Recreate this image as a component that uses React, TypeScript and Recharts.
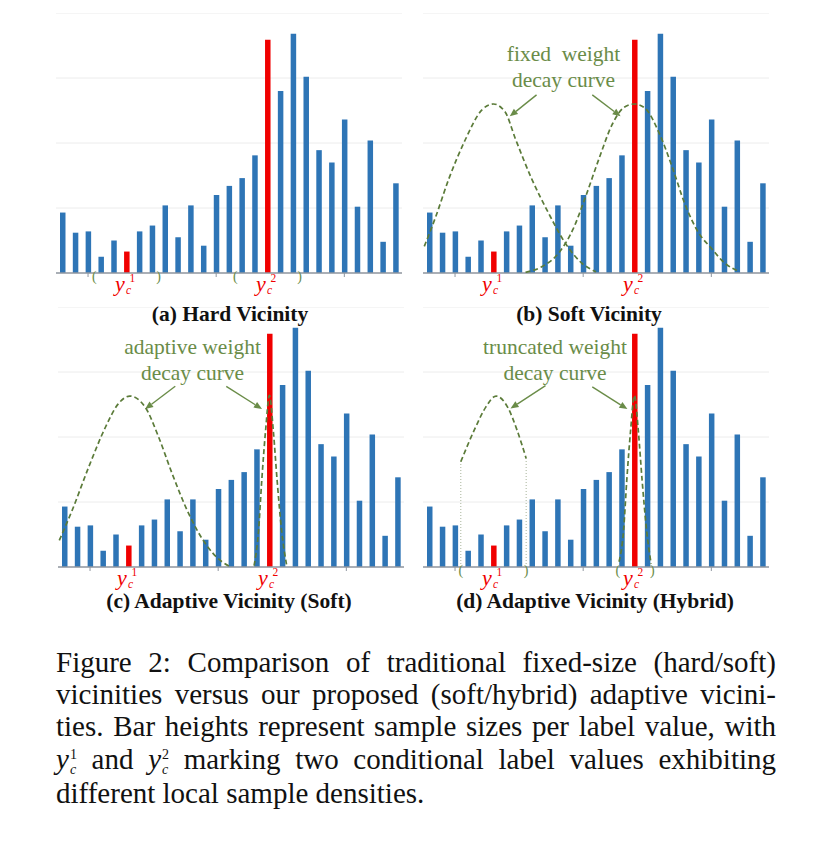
import React from 'react';
import {
  ComposedChart,
  Bar,
  Line,
  Cell,
  XAxis,
  YAxis,
  CartesianGrid,
  ReferenceDot,
  ReferenceLine,
} from 'recharts';

// histogram shared by all four panels (sample size per label bin)
const binPositions = [0, 1, 2, 3, 4, 5, 6, 7, 8, 9, 10, 11, 12, 13, 14, 15, 16, 17, 18, 19, 20, 21, 22, 23, 24, 25, 26];
const sampleSizes = [93, 62, 64, 25, 50, 33, 64, 73, 104, 55, 104, 42, 120, 134, 146, 181, 359, 280, 368, 302, 189, 170, 236, 102, 204, 48, 138];
const conditionalBins = [5, 16]; // y_c^1, y_c^2
const axisTicks = [2, 12, 22];
const gridValues = [0, 100, 200, 300];

// vicinity windows [from, to] in bin units
const hardWindows = [[2.5, 7.5], [13.5, 18.5]];
const hybridWindows = [[2.45, 7.55], [14.7, 17.4]];

// weight decay curves, [bin, height]
const fixedCurveLow = [[-0.4, 41], [0.5, 87], [1.5, 144], [2.8, 205], [4.1, 251], [5.0, 260], [5.9, 248], [6.7, 207], [8.0, 144], [9.3, 92], [10.6, 46], [11.9, 15], [13.0, 2]];
const fixedCurveHigh = [[7.5, 1], [8.8, 10], [10.1, 31], [11.2, 67], [12.2, 118], [13.2, 174], [14.3, 230], [15.2, 255], [16.0, 260], [16.8, 254], [18.0, 212], [19.0, 160], [19.9, 108], [21.0, 62], [22.0, 38], [23.0, 16], [24.2, 2]];
const adaptiveCurveLow = [[-0.4, 41], [0.6, 87], [1.9, 154], [3.2, 215], [4.2, 251], [5.1, 263], [6.3, 246], [7.35, 200], [8.4, 144], [9.7, 82], [11.0, 36], [12.3, 8], [12.9, 1]];
const adaptiveCurveHigh = [[14.8, 2], [15.15, 56], [15.4, 133], [15.7, 210], [16.0, 264], [16.3, 210], [16.6, 133], [16.95, 56], [17.35, 2]];
const truncatedCurveLow = [[2.45, 162], [3.6, 215], [4.4, 246], [5.2, 263], [6.1, 246], [6.85, 210], [7.55, 167]];
const truncatedCurveHigh = [[14.8, 8], [15.15, 56], [15.4, 133], [15.7, 210], [16.0, 264], [16.3, 210], [16.6, 133], [16.95, 56], [17.3, 5]];

const BLUE = '#2e75b6';
const RED = '#f00000';
const CURVE = '#5b7b39';
const GREEN_TEXT = '#6a8c48';
const GRID = '#ececec';
const AXIS = '#9097a0';
const SERIF = "'Liberation Serif', 'Times New Roman', serif";

const PLOT_W = 346;
const PLOT_H = 260;
const AXIS_H = 46;
const X_DOMAIN: [number, number] = [-0.5, 26.5];
const Y_DOMAIN: [number, number] = [0, 400];

const barRows = binPositions.map((x, i) => ({
  x,
  count: sampleSizes[i],
  highlight: conditionalBins.includes(x),
}));

function curveRows(curves: number[][][]) {
  const rows: any[] = [];
  curves.forEach((pts, ci) => pts.forEach(([x, y]) => rows.push({ x, [`c${ci}`]: y })));
  return rows.sort((a, b) => a.x - b.x);
}

const Arrow = (p: any) => {
  const { x1, y1, x2, y2 } = p;
  const a = Math.atan2(y2 - y1, x2 - x1);
  const len = 8;
  const w = 3.4;
  const bx = x2 - len * Math.cos(a);
  const by = y2 - len * Math.sin(a);
  const pts = `${x2},${y2} ${bx + w * Math.sin(a)},${by - w * Math.cos(a)} ${bx - w * Math.sin(a)},${by + w * Math.cos(a)}`;
  return (
    <g>
      <line x1={x1} y1={y1} x2={bx} y2={by} stroke={GREEN_TEXT} strokeWidth={1.4} />
      <polygon points={pts} fill={GREEN_TEXT} />
    </g>
  );
};

// y_c^n under a highlighted bar
const CondLabel = ({ cx, cy, n }: any) => (
  <g fill={RED} fontFamily={SERIF}>
    <text x={cx - 11.5} y={cy + 17.5} fontSize={22} fontStyle="italic">y</text>
    <text x={cx - 0.5} y={cy + 20.5} fontSize={11.5} fontStyle="italic">c</text>
    <text x={cx + 3} y={cy + 8.5} fontSize={11.5}>{n}</text>
  </g>
);

const Bracket = ({ cx, cy, ch }: any) => (
  <text x={cx} y={cy + 8} textAnchor="middle" fill={GREEN_TEXT} fontFamily={SERIF} fontSize={14}>
    {ch}
  </text>
);

interface PanelProps {
  left: number;
  top: number;
  curves: number[][][];
  windows?: number[][];
  truncated?: boolean;
  arrows?: { x: number; y: number }[][];
}

const Panel: React.FC<PanelProps> = ({ left, top, curves, windows = [], truncated = false, arrows = [] }) => {
  const rows = curveRows(curves);
  const cut = truncated ? [curves[0][0], curves[0][curves[0].length - 1]] : [];
  return (
    <>
      <div style={{ position: 'absolute', left, top }}>
        <ComposedChart width={PLOT_W} height={PLOT_H + AXIS_H} data={barRows} margin={{ top: 0, right: 0, bottom: 0, left: 0 }}>
          <CartesianGrid vertical={false} stroke={GRID} />
          <XAxis
            dataKey="x"
            type="number"
            domain={X_DOMAIN}
            ticks={axisTicks}
            interval={0}
            tickFormatter={() => ''}
            tickSize={4}
            axisLine={{ stroke: AXIS, strokeWidth: 1.3 }}
            tickLine={{ stroke: AXIS }}
            height={AXIS_H}
            allowDataOverflow
          />
          <YAxis hide domain={Y_DOMAIN} ticks={gridValues} allowDataOverflow />
          <Bar dataKey="count" barSize={5.5} isAnimationActive={false}>
            {barRows.map((r) => (
              <Cell key={r.x} fill={r.highlight ? RED : BLUE} />
            ))}
          </Bar>
          {cut.map(([x, y], i) => (
            <ReferenceLine
              key={`cut${i}`}
              segment={[{ x, y: 0 }, { x, y }]}
              stroke="#a8b49a"
              strokeWidth={1}
              strokeDasharray="1 2"
            />
          ))}
          {arrows.map((seg, i) => (
            <ReferenceLine key={`ar${i}`} segment={seg} shape={Arrow} />
          ))}
          {conditionalBins.map((b, i) => (
            <ReferenceDot key={`yc${i}`} x={b} y={0} ifOverflow="visible" shape={(p: any) => <CondLabel cx={p.cx} cy={p.cy} n={i + 1} />} />
          ))}
          {windows.flatMap(([a, b], i) => [
            <ReferenceDot key={`wa${i}`} x={a} y={0} ifOverflow="visible" shape={(p: any) => <Bracket cx={p.cx} cy={p.cy} ch="(" />} />,
            <ReferenceDot key={`wb${i}`} x={b} y={0} ifOverflow="visible" shape={(p: any) => <Bracket cx={p.cx} cy={p.cy} ch=")" />} />,
          ])}
        </ComposedChart>
      </div>
      {curves.length > 0 && (
        <div style={{ position: 'absolute', left, top }}>
          <ComposedChart width={PLOT_W} height={PLOT_H + AXIS_H} data={rows} margin={{ top: 0, right: 0, bottom: AXIS_H, left: 0 }}>
            <XAxis dataKey="x" type="number" domain={X_DOMAIN} hide allowDataOverflow />
            <YAxis hide domain={Y_DOMAIN} allowDataOverflow />
            {curves.map((_, ci) => (
              <Line
                key={ci}
                dataKey={`c${ci}`}
                type="monotone"
                stroke={CURVE}
                strokeWidth={1.7}
                strokeDasharray="5 3"
                dot={false}
                activeDot={false}
                connectNulls
                isAnimationActive={false}
              />
            ))}
          </ComposedChart>
        </div>
      )}
    </>
  );
};

const Title = ({ cx, baseline, children }: any) => (
  <div
    style={{
      position: 'absolute',
      left: cx - 200,
      top: baseline - 13.7,
      width: 400,
      textAlign: 'center',
      fontFamily: SERIF,
      fontWeight: 'bold',
      fontSize: 21.5,
      lineHeight: 0.6,
      color: '#111',
    }}
  >
    {children}
  </div>
);

const Note = ({ cx, baseline, lines }: any) => (
  <>
    {lines.map((t: string, i: number) => (
      <div
        key={i}
        style={{
          position: 'absolute',
          left: cx - 120,
          top: baseline + i * 25.7 - 17.6,
          width: 240,
          textAlign: 'center',
          fontFamily: SERIF,
          fontSize: 21.5,
          lineHeight: 1,
          color: GREEN_TEXT,
          whiteSpace: 'pre',
        }}
      >
        {t}
      </div>
    ))}
  </>
);

// y with stacked superscript n and subscript c
const MathY = ({ n }: { n: number }) => (
  <span style={{ whiteSpace: 'nowrap' }}>
    <i>y</i>
    <span
      style={{
        display: 'inline-flex',
        flexDirection: 'column',
        fontSize: 14,
        lineHeight: '15.6px',
        verticalAlign: '10px',
        marginLeft: 1,
      }}
    >
      <span>{n}</span>
      <i>c</i>
    </span>
  </span>
);

const captionLines: React.ReactNode[] = [
  'Figure 2: Comparison of traditional fixed-size (hard/soft)',
  'vicinities versus our proposed (soft/hybrid) adaptive vicini-',
  'ties. Bar heights represent sample sizes per label value, with',
  <>
    <MathY n={1} /> and <MathY n={2} /> marking two conditional label values exhibiting
  </>,
  'different local sample densities.',
];
const captionBaselines = [672.7, 704.3, 736.7, 769, 803.5];

export default function App() {
  return (
    <div style={{ position: 'absolute', left: 0, top: 0, width: 828, height: 843, background: '#fff', overflow: 'hidden' }}>
      <Panel left={55.5} top={13} curves={[]} windows={hardWindows} />
      <Panel
        left={422.6}
        top={13}
        curves={[fixedCurveLow, fixedCurveHigh]}
        arrows={[
          [{ x: 8.36, y: 274 }, { x: 6.27, y: 241 }],
          [{ x: 12.71, y: 274 }, { x: 14.92, y: 241 }],
        ]}
      />
      <Panel
        left={57.9}
        top={306.7}
        curves={[adaptiveCurveLow, adaptiveCurveHigh]}
        arrows={[
          [{ x: 8.65, y: 278 }, { x: 6.3, y: 243 }],
          [{ x: 12.63, y: 278 }, { x: 15.42, y: 243 }],
        ]}
      />
      <Panel
        left={422.6}
        top={306.7}
        curves={[truncatedCurveLow, truncatedCurveHigh]}
        windows={hybridWindows}
        truncated
        arrows={[
          [{ x: 9.06, y: 279 }, { x: 6.33, y: 244 }],
          [{ x: 12.71, y: 277 }, { x: 15.45, y: 243 }],
        ]}
      />

      <Note cx={563.5} baseline={61.7} lines={['fixed  weight', 'decay curve']} />
      <Note cx={192.5} baseline={355} lines={['adaptive weight', 'decay curve']} />
      <Note cx={555} baseline={355} lines={['truncated weight', 'decay curve']} />

      <Title cx={230} baseline={321.7}>(a) Hard Vicinity</Title>
      <Title cx={589} baseline={321.7}>(b) Soft Vicinity</Title>
      <Title cx={229} baseline={609}>(c) Adaptive Vicinity (Soft)</Title>
      <Title cx={595} baseline={609}>(d) Adaptive Vicinity (Hybrid)</Title>

      {captionLines.map((line, i) => (
        <div
          key={i}
          style={{
            position: 'absolute',
            left: 56,
            top: captionBaselines[i] - 24.3,
            width: 720,
            fontFamily: SERIF,
            fontSize: 29,
            lineHeight: 1,
            color: '#111',
            textAlign: 'justify',
            textAlignLast: i < captionLines.length - 1 ? 'justify' : 'left',
          }}
        >
          {line}
        </div>
      ))}
    </div>
  );
}
